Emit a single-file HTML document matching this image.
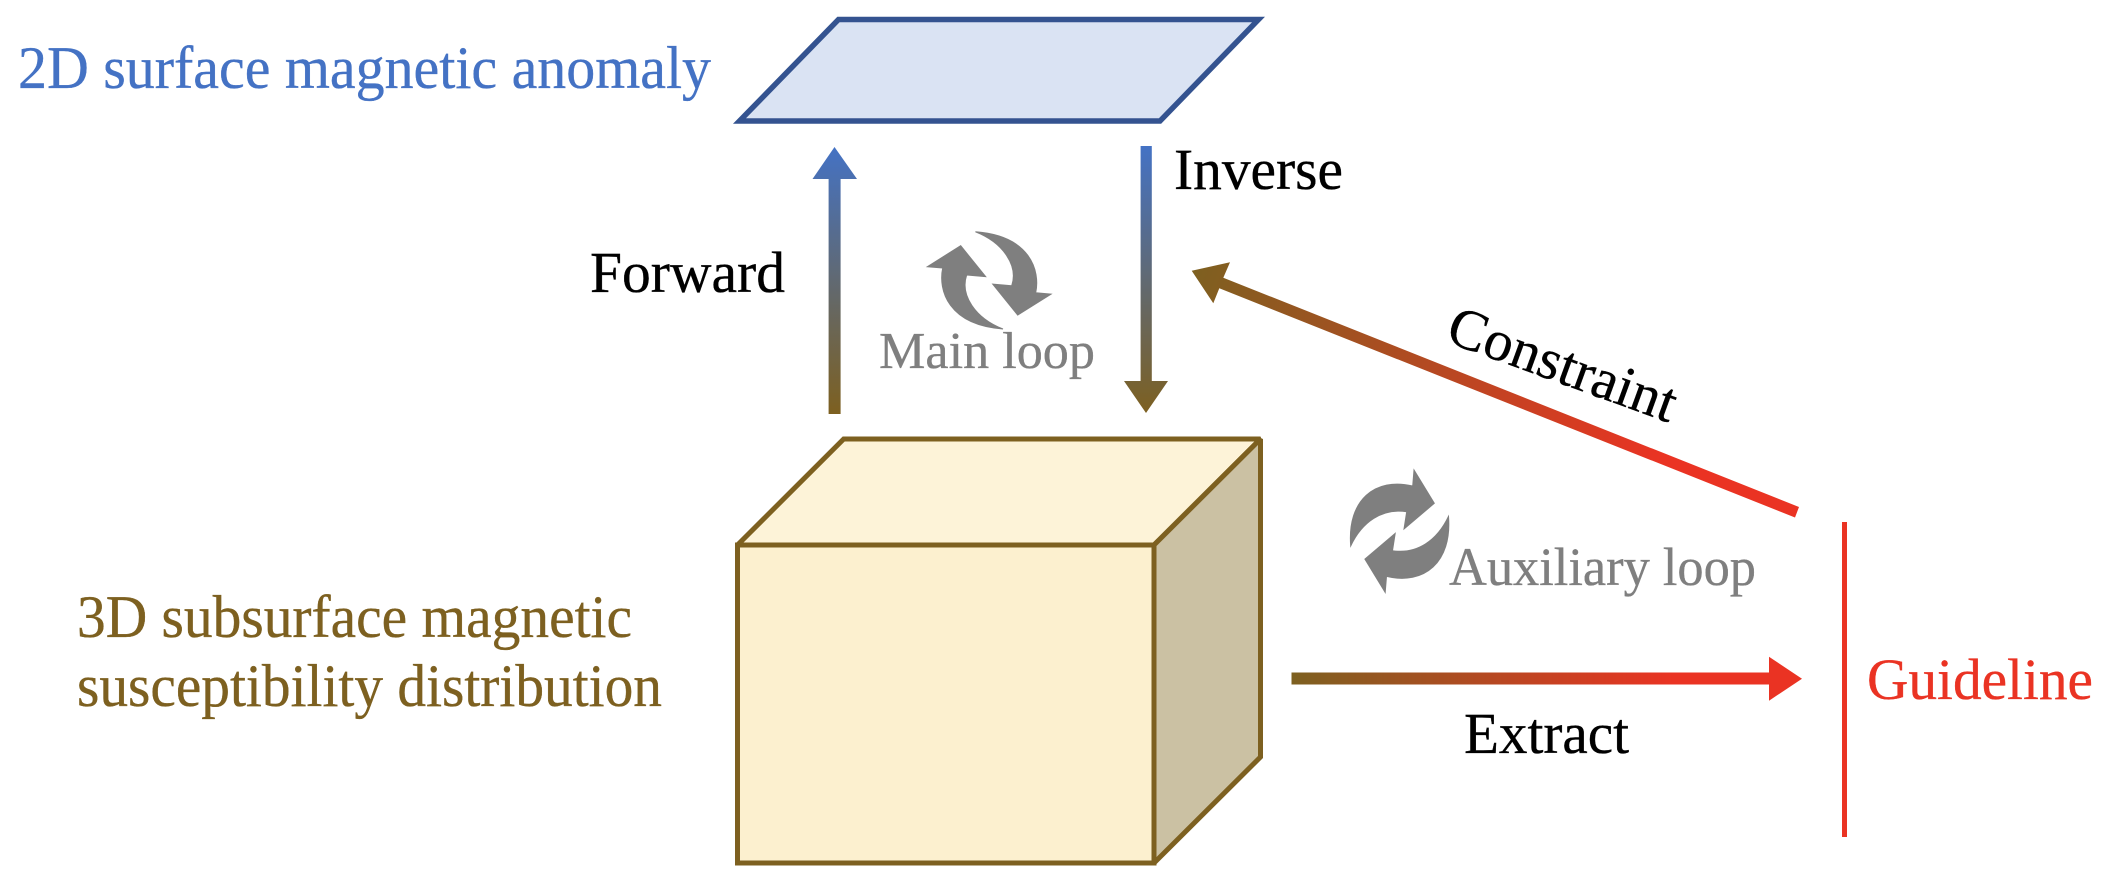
<!DOCTYPE html>
<html><head><meta charset="utf-8"><style>
html,body{margin:0;padding:0;background:#fff;width:2112px;height:886px;overflow:hidden}
svg{display:block}
text{font-family:"Liberation Serif",serif;stroke-width:.35px}
</style></head><body>
<svg width="2112" height="886" viewBox="0 0 2112 886" xmlns="http://www.w3.org/2000/svg">
<defs>
<linearGradient id="g1" gradientUnits="userSpaceOnUse" x1="0" y1="147" x2="0" y2="414"><stop offset="0" stop-color="#4472C4"/><stop offset="1" stop-color="#7D6020"/></linearGradient>
<linearGradient id="g2" gradientUnits="userSpaceOnUse" x1="1291" y1="0" x2="1802" y2="0"><stop offset="0" stop-color="#7D6020"/><stop offset="0.75" stop-color="#EA3323"/><stop offset="1" stop-color="#EA3323"/></linearGradient>
<linearGradient id="g3" gradientUnits="userSpaceOnUse" x1="1191" y1="270" x2="1797" y2="512"><stop offset="0" stop-color="#7D6020"/><stop offset="0.78" stop-color="#EA3323"/><stop offset="1" stop-color="#EA3323"/></linearGradient>
</defs>
<polygon points="838.5,19.5 1258.5,19.5 1160,121 739.5,121" fill="#DAE3F3" stroke="#345390" stroke-width="5.5"/>
<polygon points="737.5,545 843.7,439 1260.5,439 1154,545" fill="#FDF3D8" stroke="#7D6020" stroke-width="5" stroke-miterlimit="2"/>
<polygon points="1154,545 1260.5,439 1260.5,757 1154,863" fill="#CBC1A3" stroke="#7D6020" stroke-width="5" stroke-miterlimit="2"/>
<rect x="737.5" y="545" width="416.5" height="318" fill="#FCF0CF" stroke="#7D6020" stroke-width="5"/>
<path d="M828.6,414 V179 H812.5 L834.5,147 L857,179 H840.6 V414 Z" fill="url(#g1)"/>
<path d="M1140.6,146 H1151.8 V381 H1168 L1146,413 L1124,381 H1140.6 Z" fill="url(#g1)"/>
<path d="M1291.5,672.5 H1769 V656.7 L1802,678.7 L1769,700.7 V684.5 H1291.5 Z" fill="url(#g2)"/>
<path d="M1191.7,270.7 L1230,262.3 L1223.3,277.7 L1799,507 L1795,517.5 L1219.3,288.3 L1213.3,303.3 Z" fill="url(#g3)"/>
<rect x="1842" y="522" width="5" height="315" fill="#EA3323"/>
<g fill="#7F7F7F" stroke="#7F7F7F" stroke-width="1">
<path d="M960.7,245.7 L927.3,266.7 L942.7,268 C938,290 948,325 1003,329 C975,318 960,295 966.7,275 L985.7,276.7 Z"/>
<path d="M960.7,245.7 L927.3,266.7 L942.7,268 C938,290 948,325 1003,329 C975,318 960,295 966.7,275 L985.7,276.7 Z" transform="rotate(180 989.2 280.4)"/>
<path d="M1434.3,503.3 L1414,470 L1412.7,486 C1375,477 1347,500 1350.7,546 C1362,522 1382,508 1406.7,511.7 L1404,529 Z"/>
<path d="M1434.3,503.3 L1414,470 L1412.7,486 C1375,477 1347,500 1350.7,546 C1362,522 1382,508 1406.7,511.7 L1404,529 Z" transform="rotate(180 1399.6 531.2)"/>
</g>
<text x="18" y="88" font-size="60" fill="#4472C4" stroke="#4472C4" textLength="693" lengthAdjust="spacingAndGlyphs">2D surface magnetic anomaly</text>
<text x="77" y="637" font-size="60" fill="#7D6020" stroke="#7D6020" textLength="555" lengthAdjust="spacingAndGlyphs">3D subsurface magnetic</text>
<text x="77" y="706" font-size="60" fill="#7D6020" stroke="#7D6020" textLength="585" lengthAdjust="spacingAndGlyphs">susceptibility distribution</text>
<text x="590" y="292" font-size="58" fill="#000" stroke="#000" textLength="195" lengthAdjust="spacingAndGlyphs">Forward</text>
<text x="1174" y="189" font-size="58" fill="#000" stroke="#000" textLength="169" lengthAdjust="spacingAndGlyphs">Inverse</text>
<text x="879" y="368" font-size="52" fill="#7F7F7F" stroke="#7F7F7F" textLength="216" lengthAdjust="spacingAndGlyphs">Main loop</text>
<text x="1449" y="585" font-size="54" fill="#7F7F7F" stroke="#7F7F7F" textLength="307" lengthAdjust="spacingAndGlyphs">Auxiliary loop</text>
<text x="1464" y="753" font-size="58" fill="#000" stroke="#000" textLength="165" lengthAdjust="spacingAndGlyphs">Extract</text>
<text x="1867" y="699" font-size="58" fill="#EA3323" stroke="#EA3323" textLength="226" lengthAdjust="spacingAndGlyphs">Guideline</text>
<text transform="translate(1444 341) rotate(20)" font-size="57.4" fill="#000" stroke="#000">Constraint</text>
</svg>
</body></html>
